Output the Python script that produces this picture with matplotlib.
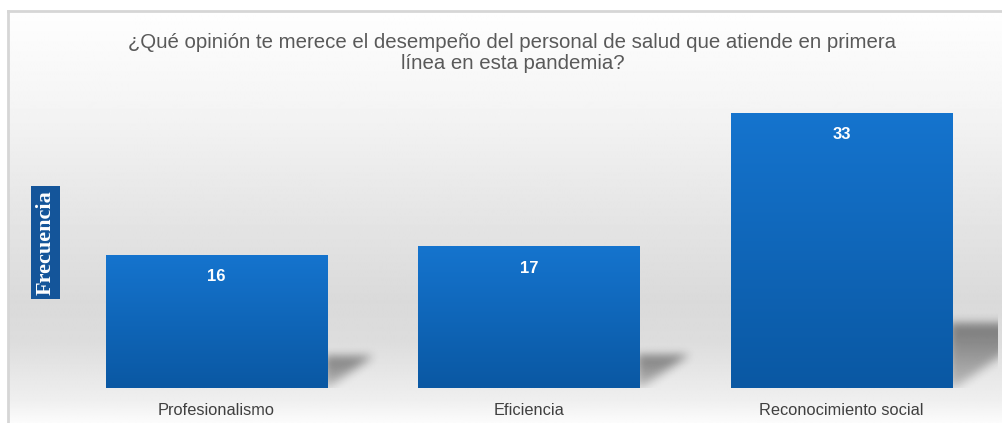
import numpy as np
import matplotlib
matplotlib.use("Agg")
import matplotlib.pyplot as plt
from matplotlib.lines import Line2D
from matplotlib.colors import to_rgb

categories = ["Profesionalismo", "Eficiencia", "Reconocimiento social"]
values = [16, 17, 33]
title = "¿Qué opinión te merece el desempeño del personal de salud que atiende en primera\nlínea en esta pandemia?"
ylabel = "Frecuencia"

W, H = 1003, 423
fig = plt.figure(figsize=(W / 100, H / 100), dpi=100)
fig.patch.set_facecolor("white")

# background: wall gradient inside a light grey frame
bg = fig.add_axes([9 / W, 0, 1 - 9 / W, 1 - 12 / H], zorder=0)
bg.set_axis_off()
ys = np.array([0, 90, 190, 290, 330, 388, 411])
gs = np.array([254, 245, 231, 218, 221, 239, 252]) / 255
g = np.interp(np.arange(411), ys, gs)
bg.imshow(np.repeat(g[:, None], 4, axis=1), cmap="gray", vmin=0, vmax=1,
          aspect="auto", extent=[0, 1, 0, 1], interpolation="bilinear")
fig.add_artist(Line2D([8.5 / W, 1], [1 - 11.5 / H, 1 - 11.5 / H], transform=fig.transFigure,
                      color="#d6d6d6", linewidth=2))
fig.add_artist(Line2D([8.5 / W, 8.5 / W], [0, 1 - 11.5 / H], transform=fig.transFigure,
                      color="#d6d6d6", linewidth=2))

ax = fig.add_axes([60 / W, 35 / H, 938 / W, 308 / H], zorder=1)
ax.patch.set_alpha(0)
x = np.arange(len(categories))
bw = 0.707
ymax = 37
ax.set_xlim(-0.5, 2.5)
ax.set_ylim(0, ymax)

# soft shadows behind the bars
px_x = 938 / 3.0      # pixels per x unit
px_y = 308 / ymax     # pixels per y unit
pad = 16
for xi, v in zip(x, values):
    h = 0.23 * v * px_y
    w = 1.5 * h
    nx, ny = int(w + 2 * pad), int(h + 2 * pad)
    gx, gy = np.meshgrid(np.arange(nx) - pad, np.arange(ny) - pad)
    up = gy
    inside = (gx >= -3) & (up <= h) & (up >= 0) & (gx <= 0.05 * h + (w - 0.05 * h) * up / h)
    m = inside.astype(float)
    k = np.ones(9) / 9
    for _ in range(3):
        m = np.apply_along_axis(lambda r: np.convolve(r, k, mode="same"), 1, m)
        m = np.apply_along_axis(lambda c: np.convolve(c, k, mode="same"), 0, m)
    fade = 0.45 + 0.55 * np.clip(up / h, 0, 1)
    rgba = np.zeros((ny, nx, 4))
    rgba[..., 3] = m * 0.45 * fade
    x0 = xi + bw / 2 - pad / px_x
    ax.imshow(rgba, origin="lower", aspect="auto", zorder=1, interpolation="bilinear",
              extent=[x0, x0 + nx / px_x, -pad / px_y, (ny - pad) / px_y])

bars = ax.bar(x, values, width=bw, color="#0f63b6", zorder=2)
top_c = np.array(to_rgb("#1574ce"))
bot_c = np.array(to_rgb("#0a58a3"))
t = np.linspace(0, 1, 100)[:, None]
grad = (bot_c * (1 - t) + top_c * t)[:, None, :].repeat(2, axis=1)
for b in bars:
    im = ax.imshow(grad, origin="lower", aspect="auto", zorder=3,
                   extent=[b.get_x(), b.get_x() + b.get_width(), 0, b.get_height()])
    im.set_clip_path(b)
    ax.annotate(str(int(b.get_height())), (b.get_x() + b.get_width() / 2, b.get_height()),
                xytext=(0, -15.5), textcoords="offset points", ha="center", va="center",
                color="white", fontsize=12, fontweight="bold", family="Liberation Sans", zorder=4)

ax.set_xticks(x)
ax.set_xticklabels(categories, fontsize=11.8, color="#404040", family="Liberation Sans")
ax.tick_params(axis="x", length=0, pad=10.5)
ax.set_yticks([])
for s in ax.spines.values():
    s.set_visible(False)

fig.text(0.5 * (127 + 898) / W, 1 - 33 / H, title, ha="center", va="top", fontsize=14.7,
         color="#595959", family="Liberation Sans", linespacing=1.12)
fig.text(45.5 / W, 1 - 242.5 / H, ylabel, rotation=90, ha="center", va="center",
         fontsize=16, fontweight="bold", color="white", family="Liberation Serif",
         bbox=dict(boxstyle="square,pad=0.2", facecolor="#14559a", edgecolor="none"))

fig.savefig("out.png", dpi=100)
